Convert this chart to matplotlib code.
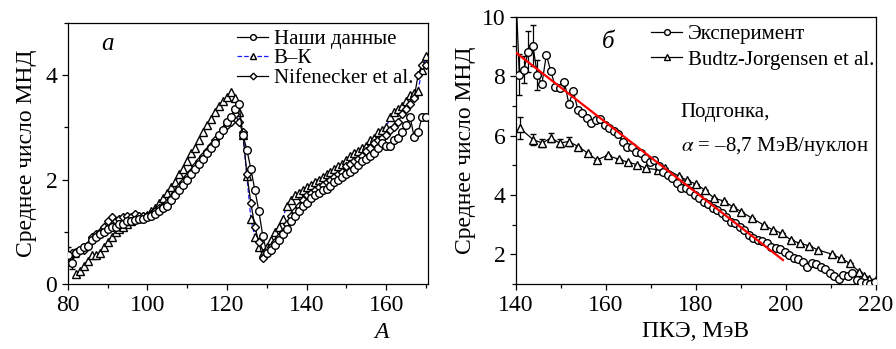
"""Среднее число МНД: (а) от массы осколка A, (б) от ПКЭ."""

import numpy as np
import matplotlib

matplotlib.use("Agg")
import matplotlib.pyplot as plt
from matplotlib.lines import Line2D
from matplotlib.ticker import MultipleLocator

SERIF = "Liberation Serif"
plt.rcParams["font.family"] = SERIF
plt.rcParams["mathtext.fontset"] = "stix"

# ---- панель а: зависимость от A ----
mass_a = np.arange(80, 171)

ours_a = [
    0.55, 0.40, 0.60, 0.65, 0.70, 0.72, 0.85, 0.90, 0.95, 1.00,
    1.05, 1.10, 1.10, 1.15, 1.15, 1.20, 1.20, 1.22, 1.25, 1.25,
    1.28, 1.30, 1.35, 1.40, 1.45, 1.50, 1.60, 1.70, 1.80, 1.90,
    2.00, 2.10, 2.20, 2.30, 2.40, 2.50, 2.60, 2.70, 2.85, 2.95,
    3.10, 3.20, 3.35, 3.45, 2.85, 2.57, 2.20, 1.80, 1.40, 0.92,
    0.60, 0.65, 0.75, 0.85, 0.95, 1.05, 1.20, 1.30, 1.40, 1.50,
    1.55, 1.65, 1.70, 1.75, 1.80, 1.82, 1.88, 1.95, 2.00, 2.05,
    2.10, 2.15, 2.20, 2.28, 2.35, 2.40, 2.45, 2.50, 2.60, 2.70,
    2.65, 2.65, 2.75, 2.80, 2.90, 3.05, 3.20, 2.82, 2.90, 3.20,
    3.20,
]
ours_a_err = [0.15, 0.12, 0.08] + [0.0] * 88

bk_mass = np.arange(82, 171)
bk_a = [
    0.20, 0.25, 0.35, 0.45, 0.55, 0.55, 0.60, 0.70, 0.80, 0.90,
    1.00, 1.05, 1.10, 1.15, 1.20, 1.25, 1.28, 1.30, 1.33, 1.40,
    1.45, 1.55, 1.65, 1.75, 1.85, 1.95, 2.10, 2.20, 2.35, 2.50,
    2.60, 2.75, 2.90, 3.05, 3.15, 3.30, 3.40, 3.50, 3.58, 3.68,
    3.55, 3.30, 2.85, 2.06, 1.25, 0.90, 0.70, 0.60, 0.70, 0.85,
    1.00, 1.10, 1.25, 1.50, 1.60, 1.70, 1.75, 1.80, 1.85, 1.90,
    1.95, 2.00, 2.05, 2.10, 2.15, 2.20, 2.25, 2.30, 2.38, 2.45,
    2.50, 2.55, 2.60, 2.65, 2.75, 2.80, 2.90, 2.95, 3.00, 3.20,
    3.30, 3.35, 3.40, 3.50, 3.62, 3.66, 3.70, 4.10, 4.36,
]

nif_mass = np.arange(81, 171)
nif_a = [
    0.60, 0.62, 0.65, 0.65, 0.75, 0.90, 0.95, 1.00, 1.10, 1.20,
    1.28, 1.20, 1.25, 1.28, 1.30, 1.28, 1.35, 1.30, 1.30, 1.30,
    1.35, 1.40, 1.45, 1.50, 1.55, 1.65, 1.75, 1.85, 1.95, 2.05,
    2.15, 2.25, 2.35, 2.45, 2.55, 2.65, 2.75, 2.85, 2.95, 3.05,
    3.10, 3.25, 3.10, 2.90, 2.10, 1.55, 1.10, 0.80, 0.50, 0.60,
    0.70, 0.80, 0.90, 1.00, 1.15, 1.30, 1.40, 1.50, 1.60, 1.70,
    1.75, 1.80, 1.85, 1.90, 1.95, 2.00, 2.05, 2.10, 2.15, 2.25,
    2.30, 2.35, 2.40, 2.45, 2.55, 2.60, 2.70, 2.75, 2.80, 2.85,
    2.95, 3.00, 3.10, 3.25, 3.35, 3.45, 3.55, 4.00, 4.20, 4.20,
]

# ---- панель б: зависимость от ПКЭ ----
tke_exp = np.concatenate([[140.0], np.arange(140.8, 220.5, 1.0)])
exp_b = [
    10.9,
    8.05, 8.22, 8.83, 9.03, 8.05, 7.72, 8.72, 8.16, 7.65, 7.60,
    7.82, 7.07, 7.49, 6.87, 6.76, 6.60, 6.42, 6.53, 6.57, 6.37,
    6.25, 6.14, 6.05, 5.80, 5.63, 5.63, 5.43, 5.40, 5.24, 5.10,
    5.18, 4.96, 4.79, 4.68, 4.57, 4.40, 4.23, 4.23, 4.12, 4.00,
    3.90, 3.78, 3.70, 3.55, 3.50, 3.38, 3.27, 3.10, 3.05, 2.93,
    2.82, 2.65, 2.54, 2.50, 2.46, 2.37, 2.26, 2.20, 2.17, 2.09,
    1.98, 1.87, 1.83, 1.75, 1.58, 1.70, 1.66, 1.58, 1.50, 1.36,
    1.27, 1.16, 1.30, 1.27, 1.36, 1.13, 1.08, 1.04, 1.00, 1.08,
]
exp_b_err = [0.0, 0.70, 0.45, 0.70, 0.70, 0.50] + [0.0] * 75

tke_budtz = [
    140.9, 143.9, 145.9, 147.8, 149.8, 151.8, 153.9, 156.0, 158.0, 160.4,
    163.0, 165.0, 167.0, 169.0, 171.6, 173.2, 176.2, 178.0, 180.0, 182.0,
    184.1, 186.2, 188.2, 190.1, 192.5, 195.1, 197.2, 199.2, 201.2, 203.2,
    205.2, 207.2, 210.2, 212.2, 214.3, 216.3, 217.5, 218.6, 219.5, 220.0,
]
budtz_b = [
    6.25, 5.86, 5.75, 5.92, 5.75, 5.80, 5.63, 5.41, 5.18, 5.33,
    5.20, 5.10, 5.02, 4.90, 4.85, 4.90, 4.64, 4.50, 4.37, 4.17,
    3.89, 3.80, 3.61, 3.44, 3.22, 2.99, 2.82, 2.71, 2.48, 2.37,
    2.29, 2.15, 2.01, 1.87, 1.70, 1.42, 1.28, 1.16, 1.02, 1.13,
]
budtz_b_err = [0.38, 0.18, 0.15, 0.15, 0.15, 0.15] + [0.0] * 34

fit_tke = [139.8, 199.4]
fit_b = [8.82, 1.81]

BLUE = "#1a1aff"

fig = plt.figure(figsize=(8.96, 3.49), dpi=100)
ax1 = fig.add_axes([0.0756, 0.186, 0.4021, 0.749])
ax2 = fig.add_axes([0.5756, 0.186, 0.4017, 0.766])

mk = dict(mfc="white", mec="black", mew=1.0, ms=5.5, lw=0.9)
leg_kw = dict(frameon=False, prop={"family": SERIF, "size": 15},
              handlelength=1.5, handletextpad=0.25, borderaxespad=0.0,
              borderpad=0.0, markerscale=0.75, loc="upper left")

ax1.errorbar(mass_a, ours_a, yerr=ours_a_err, fmt="-o", color="black",
             ecolor="black", elinewidth=0.9, capsize=2, zorder=3, **mk)
ax1.plot(bk_mass, bk_a, "--^", color=BLUE, zorder=2, **mk)
ax1.plot(nif_mass, nif_a, "-D", color="black", zorder=2, **{**mk, "ms": 4.5})

ax1.set_xlim(80, 170.5)
ax1.set_ylim(0, 5)
ax1.xaxis.set_major_locator(MultipleLocator(20))
ax1.xaxis.set_minor_locator(MultipleLocator(10))
ax1.yaxis.set_major_locator(MultipleLocator(2))
ax1.yaxis.set_minor_locator(MultipleLocator(1))
ax1.set_ylabel("Среднее число МНД", fontsize=17, family=SERIF, labelpad=6)
ax1.text(0.87, -0.145, "A", transform=ax1.transAxes, fontsize=17,
         family=SERIF, style="italic", ha="center", va="top")
ax1.text(0.11, 0.918, "а", transform=ax1.transAxes, fontsize=18,
         family=SERIF, style="italic", ha="center", va="center")
h1 = [
    Line2D([], [], marker="o", color="black", **mk),
    Line2D([], [], marker="^", color=BLUE, ls="--", **mk),
    Line2D([], [], marker="D", color="black", **{**mk, "ms": 4.5}),
]
ax1.legend(h1, ["Наши данные", "В–К", "Nifenecker et al."],
           bbox_to_anchor=(0.47, 0.975), labelspacing=0.0, **leg_kw)

ax2.errorbar(tke_exp, exp_b, yerr=exp_b_err, fmt="-o", color="black",
             ecolor="black", elinewidth=0.9, capsize=2, zorder=3, **mk)
ax2.errorbar(tke_budtz, budtz_b, yerr=budtz_b_err, fmt="-^", color="black",
             ecolor="black", elinewidth=0.9, capsize=2, zorder=2, **mk)
ax2.plot(fit_tke, fit_b, color="red", lw=1.6, zorder=4)

ax2.set_xlim(140, 220)
ax2.set_ylim(1, 10)
ax2.xaxis.set_major_locator(MultipleLocator(20))
ax2.xaxis.set_minor_locator(MultipleLocator(10))
ax2.yaxis.set_major_locator(MultipleLocator(2))
ax2.yaxis.set_minor_locator(MultipleLocator(1))
ax2.set_ylabel("Среднее число МНД", fontsize=17, family=SERIF, labelpad=4)
ax2.set_xlabel("ПКЭ, МэВ", fontsize=17, family=SERIF, labelpad=4)
ax2.text(0.256, 0.905, "б", transform=ax2.transAxes, fontsize=18,
         family=SERIF, style="italic", ha="center", va="center")
ax2.text(0.458, 0.64, "Подгонка,", transform=ax2.transAxes, fontsize=15,
         family=SERIF, ha="left", va="center")
ax2.text(0.458, 0.516, r"$\alpha$ = –8,7 МэВ/нуклон", transform=ax2.transAxes,
         fontsize=15, family=SERIF, ha="left", va="center")
h2 = [
    Line2D([], [], marker="o", color="black", **mk),
    Line2D([], [], marker="^", color="black", **mk),
]
ax2.legend(h2, ["Эксперимент", "Budtz-Jorgensen et al."],
           bbox_to_anchor=(0.376, 0.972), labelspacing=0.3, **leg_kw)

for ax in (ax1, ax2):
    ax.tick_params(which="both", direction="out", labelsize=17, width=0.9)
    ax.tick_params(which="major", length=4)
    ax.tick_params(which="minor", length=3)
    for lab in ax.get_xticklabels() + ax.get_yticklabels():
        lab.set_family(SERIF)
    for s in ax.spines.values():
        s.set_linewidth(0.9)

fig.savefig("out.png", dpi=100)
